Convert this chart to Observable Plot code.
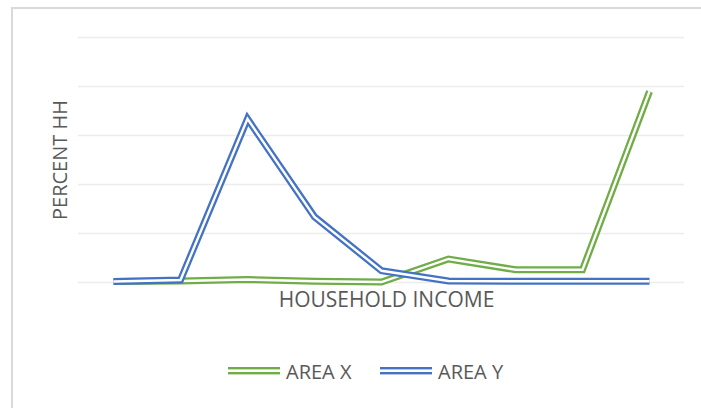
<!DOCTYPE html>
<html>
<head>
<meta charset="utf-8">
<script src="https://cdn.jsdelivr.net/npm/d3@7"></script>
<script src="https://cdn.jsdelivr.net/npm/@observablehq/plot@0.6"></script>
<style>
  html, body { margin: 0; padding: 0; background: #fff; }
  body { width: 701px; height: 408px; overflow: hidden; position: relative; font-family: "Open Sans", sans-serif; }
  #frame { position: absolute; left: 11px; top: 7px; width: 720px; height: 420px; border: 2px solid #d9d9d9; box-sizing: border-box; }
  #chart { position: absolute; left: 0; top: 0; }
  #legend { position: absolute; left: 0; top: 357px; width: 701px; height: 28px; }
  .item { position: absolute; top: 0; height: 28px; display: flex; align-items: center; color: #595959; font-size: 20px; }
  .item svg { margin-right: 6px; }
</style>
</head>
<body>
<div id="frame"></div>
<div id="chart"></div>
<div id="legend"></div>
<script>
const categories = ["Bracket 1", "Bracket 2", "Bracket 3", "Bracket 4", "Bracket 5", "Bracket 6", "Bracket 7", "Bracket 8", "Bracket 9"];
const areaX = [0.1, 0.15, 0.3, 0.12, 0.05, 2.4, 1.3, 1.3, 19.5];
const areaY = [0.1, 0.25, 16.7, 6.7, 1.2, 0.15, 0.12, 0.12, 0.12];
const seriesNames = ["AREA X", "AREA Y"];
const seriesColors = ["#70AD47", "#4472C4"];
const yTicks = [0, 5, 10, 15, 20, 25];
const xTitle = "HOUSEHOLD INCOME";
const yTitle = "PERCENT HH";

const dataX = categories.map((c, i) => ({cat: c, value: areaX[i]}));
const dataY = categories.map((c, i) => ({cat: c, value: areaY[i]}));

function doubleLine(data, color) {
  const opts = {x: "cat", y: "value", strokeLinejoin: "miter", strokeMiterlimit: 10, strokeLinecap: "butt"};
  return [
    Plot.line(data, {...opts, stroke: color, strokeWidth: 7}),
    Plot.line(data, {...opts, stroke: "#ffffff", strokeWidth: 2.4})
  ];
}

const chart = Plot.plot({
  width: 701,
  height: 320,
  marginLeft: 78,
  marginRight: 17,
  marginTop: 37,
  marginBottom: 38,
  style: {fontFamily: "Open Sans", background: "transparent"},
  x: {type: "point", domain: categories, padding: 0.5, axis: null},
  y: {domain: [0, 25], axis: null},
  marks: [
    Plot.ruleY(yTicks, {stroke: "#ececec", strokeWidth: 1.5}),
    ...doubleLine(dataX, seriesColors[0]),
    ...doubleLine(dataY, seriesColors[1]),
    Plot.text([xTitle], {frameAnchor: "bottom", lineAnchor: "top", dy: 10, dx: 5, fontSize: 21, fill: "#595959"}),
    Plot.text([yTitle], {frameAnchor: "left", textAnchor: "middle", lineAnchor: "middle", rotate: -90, dx: -18, fontSize: 20, fill: "#595959"})
  ]
});
document.getElementById("chart").appendChild(chart);

const legend = document.getElementById("legend");
const legendPos = [228, 380];
seriesNames.forEach((name, i) => {
  const item = document.createElement("div");
  item.className = "item";
  item.style.left = legendPos[i] + "px";
  item.innerHTML = `<svg width="52" height="10"><rect x="0" y="1" width="52" height="2.4" fill="${seriesColors[i]}"/><rect x="0" y="6" width="52" height="2.4" fill="${seriesColors[i]}"/></svg><span>${name}</span>`;
  legend.appendChild(item);
});
</script>
</body>
</html>
